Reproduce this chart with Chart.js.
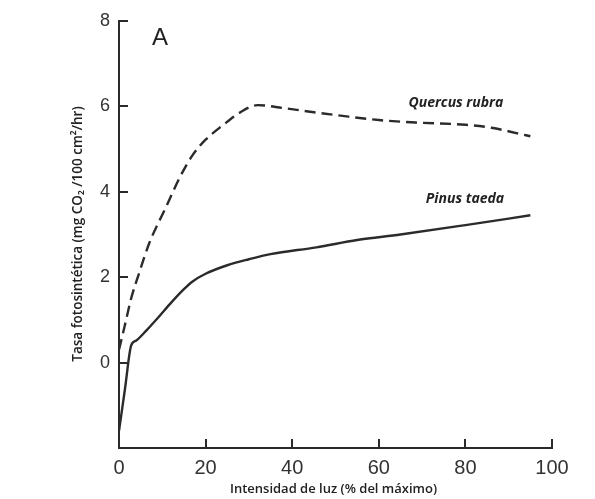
<!DOCTYPE html>
<html>
<head>
<meta charset="utf-8">
<script src="https://cdn.jsdelivr.net/npm/chart.js@4/dist/chart.umd.min.js"></script>
<style>
  html, body { margin: 0; padding: 0; background: #fff; }
  #wrap { width: 595px; height: 499px; }
</style>
</head>
<body>
<div id="wrap"><canvas id="c" width="595" height="499"></canvas></div>
<script>
// Light intensity (% of maximum) and photosynthetic rate (mg CO2 / 100 cm2 / hr)
const quercusX = [0, 1.3, 2.8, 4.5, 7, 10.9, 14, 17, 20, 24, 28, 32, 38, 46, 53, 60, 69, 80, 86, 92, 95];
const quercusY = [0.3, 0.85, 1.5, 2.05, 2.8, 3.65, 4.33, 4.86, 5.22, 5.56, 5.86, 6.03, 5.96, 5.85, 5.76, 5.68, 5.62, 5.57, 5.5, 5.37, 5.3];
const pinusX = [0, 1.4, 2.8, 4, 6.3, 9, 12, 15, 17, 20, 25, 30, 35, 45.6, 55, 65, 80, 95];
const pinusY = [-1.6, -0.6, 0.4, 0.52, 0.75, 1.05, 1.4, 1.72, 1.9, 2.08, 2.28, 2.42, 2.54, 2.7, 2.87, 3.0, 3.22, 3.45];

const xTicks = [0, 20, 40, 60, 80, 100];
const yTicks = [0, 2, 4, 6, 8];

const seriesNames = ['Quercus rubra', 'Pinus taeda'];
const panelLabel = 'A';
const xTitle = 'Intensidad de luz (% del máximo)';
const yTitle = 'Tasa fotosintética (mg CO\u2082 /100 cm\u00B2/hr)';

// Where each species name sits, in data units (x, y)
const nameAnchors = [[77.8, 6.08], [79.9, 3.83]];

const ink = '#2b2b2b';

const toPoints = (xs, ys) => xs.map((x, i) => ({ x, y: ys[i] }));

// Inward tick marks, axis titles, panel letter and species names
const decorations = {
  id: 'decorations',
  afterDraw(chart) {
    const { ctx, chartArea: a, scales: { x, y } } = chart;
    ctx.save();
    ctx.strokeStyle = ink;
    ctx.lineWidth = 2;
    ctx.beginPath();
    yTicks.forEach(v => {
      const py = Math.round(y.getPixelForValue(v));
      ctx.moveTo(a.left, py);
      ctx.lineTo(a.left + 9, py);
    });
    xTicks.forEach(v => {
      const px = Math.round(x.getPixelForValue(v));
      ctx.moveTo(px, a.bottom);
      ctx.lineTo(px, a.bottom - 9);
    });
    ctx.stroke();

    ctx.fillStyle = '#222';
    ctx.textAlign = 'center';
    ctx.textBaseline = 'middle';

    ctx.font = '600 13px "Open Sans", sans-serif';
    ctx.fillText(xTitle, (a.left + a.right) / 2 - 2, 489);

    ctx.save();
    ctx.translate(78, 234);
    ctx.rotate(-Math.PI / 2);
    ctx.font = '600 13.5px "Open Sans", sans-serif';
    ctx.fillText(yTitle, 0, 0);
    ctx.restore();

    ctx.font = '24px "Liberation Sans", Arial, sans-serif';
    ctx.fillText(panelLabel, 160, 38);

    ctx.font = 'italic 700 14px "Open Sans", sans-serif';
    seriesNames.forEach((name, i) => {
      const [vx, vy] = nameAnchors[i];
      ctx.fillText(name, x.getPixelForValue(vx), y.getPixelForValue(vy));
    });
    ctx.restore();
  }
};

new Chart(document.getElementById('c'), {
  type: 'line',
  data: {
    datasets: [
      {
        label: seriesNames[0],
        data: toPoints(quercusX, quercusY),
        borderColor: ink,
        borderWidth: 2.4,
        borderDash: [11, 6],
        pointRadius: 0,
        cubicInterpolationMode: 'monotone',
        fill: false
      },
      {
        label: seriesNames[1],
        data: toPoints(pinusX, pinusY),
        borderColor: ink,
        borderWidth: 2.4,
        pointRadius: 0,
        cubicInterpolationMode: 'monotone',
        fill: false
      }
    ]
  },
  options: {
    responsive: false,
    animation: false,
    layout: { padding: { top: 21, right: 43, left: 0, bottom: 0 } },
    plugins: { legend: { display: false }, tooltip: { enabled: false } },
    scales: {
      x: {
        type: 'linear',
        min: 0,
        max: 100,
        afterBuildTicks: s => { s.ticks = xTicks.map(v => ({ value: v })); },
        afterFit: s => { s.height = 51; },
        grid: { display: false, drawTicks: false },
        border: { display: true, color: ink, width: 2 },
        ticks: {
          padding: 8,
          color: '#333',
          font: { family: '"Liberation Sans", Arial, sans-serif', size: 20 },
          maxRotation: 0
        }
      },
      y: {
        type: 'linear',
        min: -2,
        max: 8,
        afterBuildTicks: s => { s.ticks = yTicks.map(v => ({ value: v })); },
        afterFit: s => { s.width = 119; },
        grid: { display: false, drawTicks: false },
        border: { display: true, color: ink, width: 2 },
        ticks: {
          padding: 9,
          color: '#333',
          font: { family: '"Liberation Sans", Arial, sans-serif', size: 18 }
        }
      }
    }
  },
  plugins: [decorations]
});
</script>
</body>
</html>
